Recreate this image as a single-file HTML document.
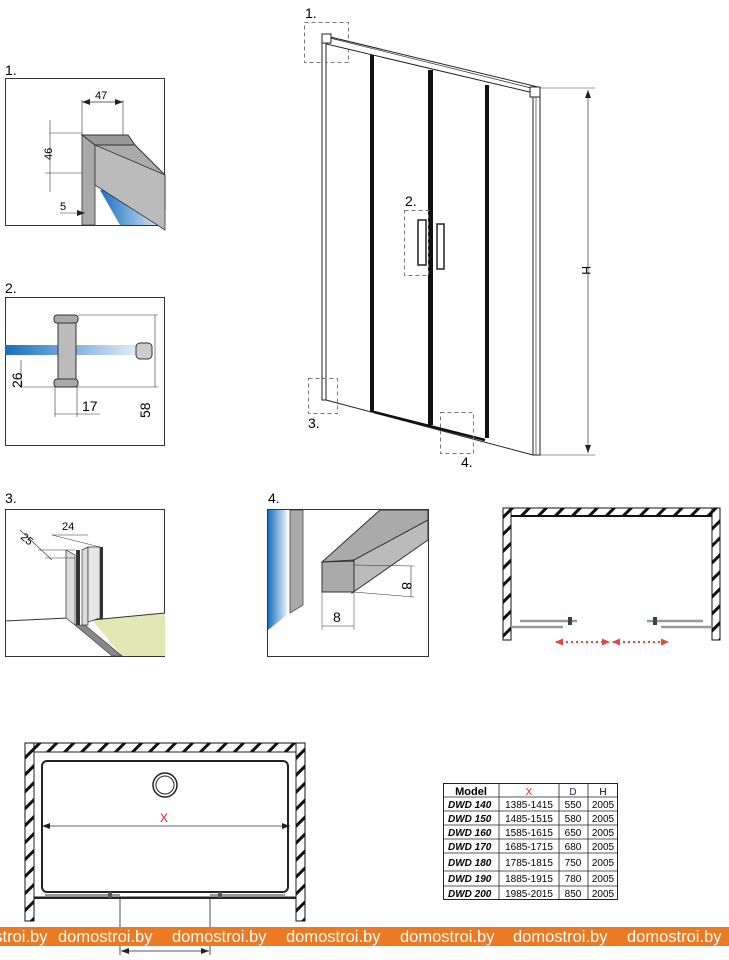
<!DOCTYPE html>
<html><head><meta charset="utf-8"><style>
html,body{margin:0;padding:0;background:#fff;}
svg{display:block;font-family:"Liberation Sans",sans-serif;}
</style></head><body>
<svg width="729" height="960" viewBox="0 0 729 960" xmlns="http://www.w3.org/2000/svg">
<defs>
<linearGradient id="blue" x1="0" y1="0" x2="1" y2="0"><stop offset="0" stop-color="#1a6fc0"/><stop offset="1" stop-color="#e6f0fa"/></linearGradient>
<pattern id="hatch" width="12" height="12" patternUnits="userSpaceOnUse" patternTransform="rotate(45)"><rect width="12" height="12" fill="#fff"/><rect x="0" y="0" width="3" height="12" fill="#111"/></pattern>
<marker id="ar" markerUnits="userSpaceOnUse" markerWidth="8" markerHeight="6" refX="8" refY="3" orient="auto"><path d="M0,0 L8,3 L0,6z" fill="#222"/></marker>
<marker id="al" markerUnits="userSpaceOnUse" markerWidth="8" markerHeight="6" refX="0" refY="3" orient="auto"><path d="M8,0 L0,3 L8,6z" fill="#222"/></marker>
<marker id="rr" markerUnits="userSpaceOnUse" markerWidth="8" markerHeight="7" refX="7" refY="3.5" orient="auto"><path d="M0,0 L8,3.5 L0,7z" fill="#e04a3a"/></marker>
<marker id="rl" markerUnits="userSpaceOnUse" markerWidth="8" markerHeight="7" refX="1" refY="3.5" orient="auto"><path d="M8,0 L0,3.5 L8,7z" fill="#e04a3a"/></marker>
</defs>

<!-- Detail 1 -->
<text x="5" y="75" font-size="14">1.</text>
<rect x="5.5" y="78.5" width="159" height="147" fill="#fff" stroke="#333"/>
<polygon points="100,190 165,190 165,225 120,225" fill="url(#blue)"/>
<polygon points="82,135 95,140 95,225 82,225" fill="#aaa" stroke="#333" stroke-width="0.8"/>
<polygon points="82,135 128,135 135,145 95,145" fill="#999" stroke="#333"/>
<polygon points="95,145 135,145 165,175 165,210 95,145" fill="#aaa" stroke="#333"/>
<polygon points="95,145 95,185 165,230 165,175" fill="#bbb" stroke="#333" stroke-width="0.8"/>
<line x1="82" y1="100" x2="82" y2="135" stroke="#333" stroke-width="0.6"/>
<line x1="123" y1="100" x2="123" y2="135" stroke="#333" stroke-width="0.6"/>
<line x1="82" y1="102" x2="123" y2="102" stroke="#333" stroke-width="0.7" marker-start="url(#al)" marker-end="url(#ar)"/>
<text x="95" y="99" font-size="11">47</text>
<line x1="50" y1="133" x2="82" y2="133" stroke="#333" stroke-width="0.6"/>
<line x1="45" y1="173" x2="82" y2="173" stroke="#333" stroke-width="0.6"/>
<line x1="50" y1="120" x2="50" y2="192" stroke="#333" stroke-width="0.6"/>
<text x="52" y="160" font-size="11" transform="rotate(-90 52 160)">46</text>
<line x1="60" y1="213" x2="85" y2="213" stroke="#333" stroke-width="0.6" marker-end="url(#ar)"/>
<text x="60" y="210" font-size="11">5</text>

<!-- Detail 2 -->
<text x="5" y="293" font-size="14">2.</text>
<rect x="5.5" y="297.5" width="159" height="148" fill="#fff" stroke="#333"/>
<rect x="5" y="345" width="135" height="10" fill="url(#blue)"/>
<rect x="136" y="343" width="16" height="16" rx="4" fill="#ccc" stroke="#333"/>
<rect x="58" y="316" width="18" height="70" fill="#bbb" stroke="#333"/>
<rect x="54" y="315" width="24" height="8" rx="3" fill="#aaa" stroke="#333"/>
<rect x="54" y="379" width="24" height="8" rx="3" fill="#aaa" stroke="#333"/>
<line x1="78" y1="315" x2="158" y2="315" stroke="#333" stroke-width="0.6"/>
<line x1="20" y1="387" x2="158" y2="387" stroke="#333" stroke-width="0.6"/>
<line x1="155" y1="315" x2="155" y2="387" stroke="#333" stroke-width="0.6"/>
<line x1="21" y1="360" x2="21" y2="387" stroke="#333" stroke-width="0.6"/>
<text x="22" y="388" font-size="14" transform="rotate(-90 22 388)">26</text>
<text x="150" y="418" font-size="14" transform="rotate(-90 150 418)">58</text>
<line x1="55" y1="387" x2="55" y2="417" stroke="#333" stroke-width="0.6"/>
<line x1="77" y1="387" x2="77" y2="417" stroke="#333" stroke-width="0.6"/>
<line x1="55" y1="414" x2="100" y2="414" stroke="#333" stroke-width="0.6"/>
<text x="82" y="411" font-size="14">17</text>

<!-- Detail 3 -->
<text x="5" y="503" font-size="14">3.</text>
<rect x="5.5" y="509.5" width="159" height="147" fill="#fff" stroke="#333"/>
<polygon points="92,620 165,613 165,656 122,656" fill="#e2e8b4"/>
<line x1="5" y1="621" x2="68" y2="618" stroke="#333"/>
<line x1="92" y1="620" x2="165" y2="613" stroke="#333"/>
<polygon points="75,625 85,625 122,656 112,656" fill="#888" stroke="#333" stroke-width="0.6"/>
<polygon points="66,550 75,555 75,625 66,618" fill="#ddd" stroke="#333" stroke-width="0.7"/>
<rect x="76" y="550" width="4" height="75" fill="#333"/>
<polygon points="82,550 88,547 88,625 82,625" fill="#ddd" stroke="#333" stroke-width="0.7"/>
<polygon points="88,547 100,547 100,618 88,622" fill="#e6e6e6" stroke="#333" stroke-width="0.7"/>
<rect x="100" y="547" width="3" height="72" fill="#333"/>
<line x1="52" y1="535" x2="88" y2="535" stroke="#333" stroke-width="0.6"/>
<line x1="52" y1="535" x2="100" y2="547" stroke="#333" stroke-width="0.5"/>
<text x="62" y="530" font-size="11">24</text>
<line x1="20" y1="530" x2="52" y2="560" stroke="#333" stroke-width="0.6"/>
<text x="20" y="538" font-size="11" transform="rotate(40 20 538)">25</text>
<line x1="38" y1="550" x2="75" y2="550" stroke="#333" stroke-width="0.5"/>
<line x1="45" y1="558" x2="75" y2="558" stroke="#333" stroke-width="0.5"/>

<!-- Detail 4 -->
<text x="268" y="503" font-size="14">4.</text>
<rect x="267.5" y="509.5" width="161" height="147" fill="#fff" stroke="#333"/>
<polygon points="268,510 287,510 287,615 268,630" fill="url(#blue)"/>
<polygon points="290,510 303,510 303,605 290,613" fill="#aaa" stroke="#333" stroke-width="0.7"/>
<polygon points="322,562 380,510 428,510 428,520 375,560 354,560" fill="#aaa" stroke="#333"/>
<polygon points="354,560 428,520 428,540 352,593" fill="#bbb" stroke="#333"/>
<path d="M322,562 L354,561 L354,592 L322,592 Z" fill="#aaa" stroke="#333"/>
<line x1="354" y1="565" x2="414" y2="566" stroke="#333" stroke-width="0.5"/>
<line x1="354" y1="592" x2="414" y2="597" stroke="#333" stroke-width="0.5"/>
<line x1="411" y1="566" x2="411" y2="597" stroke="#333" stroke-width="0.6"/>
<text x="402" y="582" font-size="14" transform="rotate(90 402 582)">8</text>
<line x1="322" y1="592" x2="322" y2="630" stroke="#333" stroke-width="0.5"/>
<line x1="354" y1="592" x2="354" y2="630" stroke="#333" stroke-width="0.5"/>
<line x1="322" y1="626" x2="354" y2="626" stroke="#333" stroke-width="0.6"/>
<text x="333" y="622" font-size="14">8</text>

<!-- Main drawing -->
<rect x="304.5" y="22.5" width="44" height="40" fill="none" stroke="#777" stroke-dasharray="4,3"/>
<text x="305" y="18" font-size="14">1.</text>
<polygon points="322,35 538,87 538,94 322,43" fill="#fff" stroke="#222"/>
<line x1="330" y1="38" x2="535" y2="89" stroke="#222" stroke-width="0.7"/>
<rect x="322" y="34" width="9" height="9" fill="#fff" stroke="#222"/>
<rect x="530" y="87" width="10" height="10" fill="#fff" stroke="#222"/>
<rect x="322" y="43" width="4" height="357" fill="#fff" stroke="#222"/>
<rect x="533" y="97" width="7" height="358" fill="#fff" stroke="#222"/>
<line x1="536" y1="97" x2="536" y2="455" stroke="#222" stroke-width="0.6"/>
<line x1="326" y1="400" x2="533" y2="455" stroke="#222"/>
<rect x="370" y="55" width="4" height="357" fill="#111"/>
<rect x="428" y="70" width="5" height="355" fill="#111"/>
<rect x="485" y="85" width="4" height="353" fill="#111"/>
<line x1="374" y1="412" x2="485" y2="440" stroke="#111" stroke-width="2.5"/>
<rect x="418" y="220" width="8" height="45" fill="#fff" stroke="#222" stroke-width="1.5"/>
<rect x="437" y="224" width="7" height="45" fill="#fff" stroke="#222" stroke-width="1.5"/>
<rect x="404.5" y="210.5" width="24" height="65" fill="none" stroke="#777" stroke-dasharray="4,3"/>
<text x="405" y="206" font-size="14">2.</text>
<rect x="308.5" y="378.5" width="29" height="35" fill="none" stroke="#777" stroke-dasharray="4,3"/>
<text x="308" y="428" font-size="14">3.</text>
<rect x="440.5" y="412.5" width="33" height="41" fill="none" stroke="#777" stroke-dasharray="4,3"/>
<text x="461" y="467" font-size="14">4.</text>
<line x1="540" y1="88" x2="595" y2="88" stroke="#333" stroke-width="0.6"/>
<line x1="540" y1="455" x2="595" y2="455" stroke="#333" stroke-width="0.6"/>
<line x1="588" y1="90" x2="588" y2="453" stroke="#333" stroke-width="0.7" marker-start="url(#al)" marker-end="url(#ar)"/>
<text x="578" y="270" font-size="12" transform="rotate(90 582 270)">H</text>

<!-- Top right plan -->
<rect x="503" y="508" width="217" height="8" fill="url(#hatch)" stroke="#111"/>
<rect x="503" y="508" width="8" height="132" fill="url(#hatch)" stroke="#111"/>
<rect x="712" y="508" width="8" height="132" fill="url(#hatch)" stroke="#111"/>
<line x1="511" y1="516" x2="712" y2="516" stroke="#111" stroke-width="2"/>
<line x1="520" y1="621" x2="577" y2="621" stroke="#999" stroke-width="2.5"/>
<line x1="511" y1="627" x2="563" y2="627" stroke="#999" stroke-width="2.5"/>
<rect x="568" y="617" width="4" height="8" fill="#345"/>
<line x1="647" y1="621" x2="703" y2="621" stroke="#999" stroke-width="2.5"/>
<line x1="661" y1="627" x2="712" y2="627" stroke="#999" stroke-width="2.5"/>
<rect x="653" y="617" width="4" height="8" fill="#345"/>
<line x1="556" y1="642" x2="609" y2="642" stroke="#e04a3a" stroke-width="2" stroke-dasharray="2,3" marker-start="url(#rl)" marker-end="url(#rr)"/>
<line x1="613" y1="642" x2="668" y2="642" stroke="#e04a3a" stroke-width="2" stroke-dasharray="2,3" marker-start="url(#rl)" marker-end="url(#rr)"/>

<!-- Bottom plan -->
<rect x="25" y="743" width="280" height="9" fill="url(#hatch)" stroke="#111"/>
<rect x="25" y="743" width="9" height="178" fill="url(#hatch)" stroke="#111"/>
<rect x="296" y="743" width="9" height="178" fill="url(#hatch)" stroke="#111"/>
<rect x="34" y="752" width="262" height="145" fill="#fff" stroke="#222"/>
<rect x="42" y="761" width="246" height="131" rx="5" fill="#fff" stroke="#222" stroke-width="2"/>
<circle cx="165" cy="785" r="12" fill="#fff" stroke="#222" stroke-width="1.5"/>
<circle cx="165" cy="785" r="9" fill="#fff" stroke="#222"/>
<line x1="42" y1="826" x2="290" y2="826" stroke="#333" stroke-width="0.7" marker-start="url(#al)" marker-end="url(#ar)"/>
<text x="160" y="822" font-size="12" fill="#d22">X</text>
<line x1="34" y1="898" x2="296" y2="898" stroke="#222" stroke-width="2"/>
<line x1="45" y1="895" x2="120" y2="895" stroke="#777" stroke-width="1.5"/>
<line x1="210" y1="895" x2="285" y2="895" stroke="#777" stroke-width="1.5"/>
<rect x="108" y="892" width="4" height="6" fill="#555"/>
<rect x="218" y="892" width="4" height="6" fill="#555"/>
<line x1="120" y1="898" x2="120" y2="955" stroke="#222" stroke-width="0.8"/>
<line x1="210" y1="898" x2="210" y2="955" stroke="#222" stroke-width="0.8"/>
<line x1="121" y1="951" x2="209" y2="951" stroke="#222" stroke-width="0.8" marker-start="url(#al)" marker-end="url(#ar)"/>

<!-- Table -->
<g font-size="10" stroke="none">
<rect x="443.5" y="783.5" width="174" height="116" fill="#fff" stroke="#222"/>
<g stroke="#222" stroke-width="0.8">
<line x1="499" y1="784" x2="499" y2="900"/><line x1="559" y1="784" x2="559" y2="900"/><line x1="588" y1="784" x2="588" y2="900"/>
<line x1="444" y1="797" x2="618" y2="797"/><line x1="444" y1="811" x2="618" y2="811"/><line x1="444" y1="825" x2="618" y2="825"/><line x1="444" y1="839" x2="618" y2="839"/><line x1="444" y1="853" x2="618" y2="853"/><line x1="444" y1="871" x2="618" y2="871"/><line x1="444" y1="886" x2="618" y2="886"/>
</g>
<text x="471" y="795" font-size="11" font-weight="bold" text-anchor="middle">Model</text>
<text x="529" y="795" text-anchor="middle" fill="#d22">X</text>
<text x="573" y="795" text-anchor="middle" fill="#235">D</text>
<text x="603" y="795" text-anchor="middle">H</text>
<g font-weight="bold" font-style="italic">
<text x="448" y="808">DWD 140</text><text x="448" y="822">DWD 150</text><text x="448" y="836">DWD 160</text><text x="448" y="850">DWD 170</text><text x="448" y="866">DWD 180</text><text x="448" y="882">DWD 190</text><text x="448" y="897">DWD 200</text>
</g>
<g text-anchor="middle">
<text x="529" y="808">1385-1415</text><text x="529" y="822">1485-1515</text><text x="529" y="836">1585-1615</text><text x="529" y="850">1685-1715</text><text x="529" y="866">1785-1815</text><text x="529" y="882">1885-1915</text><text x="529" y="897">1985-2015</text>
<text x="573" y="808">550</text><text x="573" y="822">580</text><text x="573" y="836">650</text><text x="573" y="850">680</text><text x="573" y="866">750</text><text x="573" y="882">780</text><text x="573" y="897">850</text>
<text x="603" y="808">2005</text><text x="603" y="822">2005</text><text x="603" y="836">2005</text><text x="603" y="850">2005</text><text x="603" y="866">2005</text><text x="603" y="882">2005</text><text x="603" y="897">2005</text>
</g>
</g>

<!-- Watermark -->
<rect x="0" y="927" width="729" height="19" fill="#ec7a22"/>
<g fill="#fff" font-size="16.5">
<text x="-47" y="942">domostroi.by</text>
<text x="58" y="942">domostroi.by</text>
<text x="172" y="942">domostroi.by</text>
<text x="286" y="942">domostroi.by</text>
<text x="400" y="942">domostroi.by</text>
<text x="513" y="942">domostroi.by</text>
<text x="627" y="942">domostroi.by</text>
</g>
</svg>
</body></html>
